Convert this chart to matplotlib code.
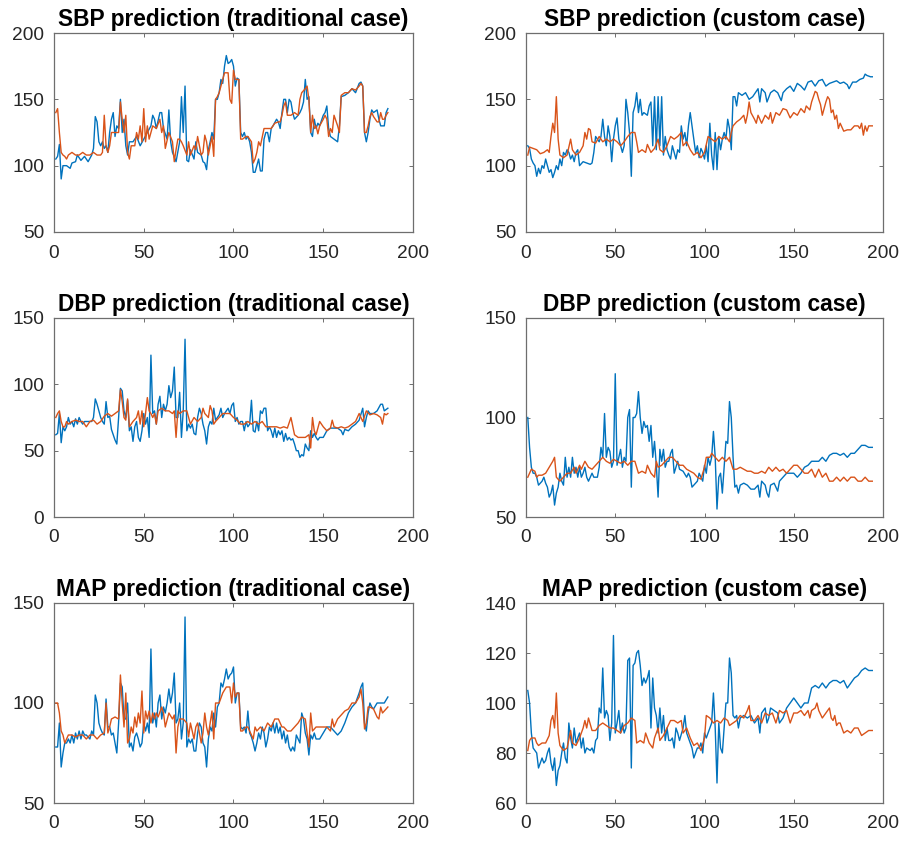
"""
BP prediction comparison: traditional vs custom case, 3x2 grid (MATLAB look).
"""
import numpy as np
import matplotlib
matplotlib.use("Agg")
import matplotlib.pyplot as plt
from matplotlib import rcParams

rcParams["font.family"] = ["Liberation Sans", "DejaVu Sans"]

BLUE   = "#0072BD"
ORANGE = "#D95319"
AXCOL  = "#6e6e6e"

# ============================================================ DATA
# --- SBP traditional
sbp_trad_blue_x = [1,2,3,4,5,7,9,10,12,13,15,17,19,21,22,23,24,25,26,27,28,29,30,31,32,33,34,35,36,37,38,39,40,41,42,44,46,48,50,52,54,55,56,57,59,60,61,63,64,65,66,68,70,71,72,73,74,75,76,78,79,80,82,83,84,85,86,87,88,89,90,91,92,93,94,95,96,97,98,99,100,101,102,103,104,105,106,107,108,109,110,111,112,113,114,115,116,117,118,119,120,121,122,124,125,126,127,128,129,130,131,132,133,134,136,137,138,139,140,141,142,143,144,145,146,147,148,150,151,152,153,154,156,158,159,160,162,164,166,168,170,171,172,173,174,175,176,177,178,180,181,182,184,185,186]
sbp_trad_blue_y = [105,107,116,90,100,100,98,102,103,108,104,107,103,108,113,137,133,118,115,118,113,115,110,125,135,140,122,130,128,150,125,135,115,108,118,118,122,115,120,125,130,138,135,128,140,140,128,120,142,118,110,103,118,152,125,160,104,103,112,105,118,110,108,103,102,97,112,118,125,120,150,150,155,165,162,175,183,177,178,180,175,160,166,165,125,122,125,120,122,118,110,95,95,100,105,96,96,120,125,125,118,128,130,135,133,128,140,150,150,140,150,148,140,135,138,140,143,148,165,150,152,125,122,135,128,132,130,138,140,145,128,122,120,118,130,152,153,155,158,155,162,163,160,125,118,125,135,142,140,142,135,130,130,140,143]
sbp_trad_orng_x = [1,2,3,4,5,6,7,8,10,12,14,16,18,20,22,24,26,27,28,29,30,31,32,34,36,37,38,39,40,41,42,43,45,46,47,48,49,50,51,52,53,55,57,59,60,61,62,64,66,67,68,69,70,71,72,74,75,76,78,79,80,81,82,83,84,85,86,88,89,90,91,92,93,95,96,97,98,99,100,101,102,103,104,105,107,108,110,111,112,113,114,115,117,119,121,123,125,126,127,128,129,130,132,134,136,137,138,140,141,142,143,144,145,146,147,148,150,151,152,153,154,155,156,158,159,160,162,164,166,168,170,171,172,173,174,175,176,177,178,180,181,182,183,184,185,186]
sbp_trad_orng_y = [140,143,125,110,108,107,105,108,110,108,108,110,108,108,110,108,108,110,138,115,110,115,125,125,125,148,135,125,138,110,105,115,115,125,120,130,118,143,118,130,120,130,128,135,125,130,113,125,118,103,112,120,120,118,115,108,118,108,115,112,122,115,108,110,123,118,108,122,107,150,152,155,160,170,170,170,150,147,172,165,165,165,120,120,122,122,118,102,105,110,118,115,128,128,128,132,133,133,138,145,148,138,138,140,138,150,155,158,160,150,125,138,128,130,124,130,135,138,135,122,128,125,138,130,125,153,155,155,158,157,160,162,160,125,125,130,137,140,137,133,133,140,135,135,138,140]

# --- SBP custom
sbp_cust_blue_x = [1,2,3,4,5,6,7,8,9,10,11,12,13,14,15,16,17,18,19,20,21,22,23,24,25,26,27,28,29,30,32,34,36,37,38,39,40,41,42,43,44,45,46,47,48,49,50,51,52,53,54,55,56,57,58,59,60,61,62,63,64,65,66,68,69,70,71,72,73,74,75,76,77,78,79,80,81,82,83,84,85,86,87,88,89,90,91,92,93,94,95,96,97,98,99,100,101,102,103,104,105,106,107,108,109,110,111,112,113,114,115,116,117,118,119,121,123,125,127,129,130,131,132,134,135,137,139,141,143,144,146,148,150,152,154,156,158,160,162,164,166,168,170,172,174,176,178,180,181,183,185,187,189,190,191,193,194]
sbp_cust_blue_y = [115,113,105,102,100,92,98,94,100,98,105,100,95,97,91,95,100,97,105,100,110,108,112,110,105,108,103,110,112,100,103,102,101,102,110,122,120,118,122,135,122,115,130,122,103,120,130,136,120,115,110,115,150,140,125,92,140,145,155,140,150,138,140,138,145,148,115,152,112,152,115,152,108,122,112,108,105,115,110,105,112,110,130,120,125,115,130,140,130,120,110,115,106,113,110,105,115,103,132,108,97,125,97,122,112,120,125,120,135,128,112,152,152,145,155,153,155,150,152,156,158,148,158,155,148,155,157,155,149,155,158,160,156,162,160,157,163,164,160,164,165,160,162,163,164,162,163,161,158,163,163,165,166,169,168,167,167]
sbp_cust_orng_x = [1,2,4,6,8,10,12,13,14,15,16,17,18,19,21,23,25,26,28,30,32,33,34,35,36,37,39,41,43,45,47,49,51,53,55,57,59,61,62,63,65,67,68,70,72,74,75,77,79,81,83,85,87,88,90,92,94,96,98,100,102,104,106,108,110,112,114,115,116,118,120,122,123,124,125,126,128,129,130,132,134,136,137,138,140,142,144,146,148,150,152,154,156,157,159,160,162,163,164,165,166,168,169,170,171,172,173,174,175,176,178,180,182,184,186,187,188,189,190,191,192,194]
sbp_cust_orng_y = [108,114,113,112,109,110,112,110,122,132,125,152,120,108,106,108,120,112,108,110,115,125,120,128,127,118,117,122,118,120,118,120,118,115,118,122,125,125,118,110,112,110,116,110,113,120,112,110,115,122,120,122,125,115,118,112,108,110,106,110,122,120,118,122,120,122,118,125,130,133,135,138,132,138,148,140,135,132,138,132,138,135,140,132,140,138,143,142,136,140,138,143,140,145,142,148,156,155,150,146,138,148,152,150,140,142,135,138,128,132,126,127,127,130,130,128,132,123,130,126,130,130]

# --- DBP traditional
dbp_trad_blue_x = [1,2,3,4,5,6,7,8,9,10,11,12,13,14,15,16,17,18,20,21,22,23,24,25,26,27,28,29,30,31,32,33,34,35,36,37,38,39,40,41,42,43,44,45,46,47,48,49,50,51,52,53,54,55,56,57,58,59,60,61,62,63,64,65,66,67,68,69,70,71,72,73,74,75,76,77,78,79,80,81,82,83,84,85,86,87,88,89,90,91,92,93,94,95,96,97,98,99,100,101,102,103,104,105,106,107,108,109,110,111,112,113,114,115,116,117,118,119,120,121,122,123,124,125,126,127,128,129,130,131,132,133,134,135,136,137,138,139,140,141,142,143,144,145,146,147,148,150,152,154,156,158,160,161,162,164,166,168,170,172,173,174,175,176,178,180,182,183,184,186]
dbp_trad_blue_y = [62,63,78,56,68,65,68,75,70,72,68,74,70,75,72,70,72,72,72,72,75,89,85,80,75,72,70,87,75,76,66,62,58,55,75,97,95,80,75,88,65,68,57,68,72,60,57,65,78,70,75,60,122,78,80,70,85,91,75,85,80,85,99,90,95,113,75,75,94,60,80,134,65,70,67,70,63,62,75,82,78,70,65,55,68,72,70,82,73,75,77,82,75,78,80,82,78,84,86,72,75,70,72,72,65,72,68,70,88,65,64,72,65,80,78,82,82,65,68,65,60,67,60,65,62,65,57,63,58,60,58,59,55,50,50,45,47,46,55,52,50,65,60,63,60,58,60,60,65,67,67,67,65,62,66,65,68,70,73,82,68,75,80,78,78,80,85,85,80,82]
dbp_trad_orng_x = [1,2,3,4,5,6,7,8,10,12,14,16,18,20,22,24,26,28,30,32,34,36,37,38,39,40,41,42,43,44,46,47,48,49,50,51,52,53,54,55,56,57,58,60,62,64,66,67,68,69,70,72,74,76,78,80,82,83,84,86,87,88,89,90,92,94,96,98,100,102,104,106,108,110,112,114,116,118,120,122,124,126,128,130,132,134,136,138,140,142,143,144,145,146,148,150,152,154,155,156,158,160,162,164,166,168,170,171,172,174,176,178,180,182,183,184,185,186]
dbp_trad_orng_y = [75,78,80,72,68,68,72,70,72,73,72,72,68,72,73,70,72,76,78,76,78,80,96,87,75,73,89,68,70,72,75,80,70,80,68,78,90,80,78,75,78,70,80,82,80,80,78,80,60,80,78,80,80,70,75,72,75,82,78,75,84,80,70,72,75,78,78,78,75,73,70,70,72,70,72,70,72,68,68,68,68,67,68,67,75,62,60,60,60,62,52,75,65,62,72,68,65,67,73,68,67,68,67,68,70,72,78,75,72,80,77,78,77,75,70,78,77,78]

# --- DBP custom
dbp_cust_blue_x = [1,2,3,4,5,6,7,8,9,10,11,12,13,14,15,16,17,18,19,20,21,22,23,24,25,26,27,28,29,30,31,32,33,34,35,37,38,40,41,42,43,44,45,46,47,48,49,50,51,52,53,54,55,56,57,58,59,60,61,62,63,64,65,66,67,68,69,70,71,72,73,74,75,76,77,78,79,80,81,82,83,84,85,86,88,90,91,92,93,95,96,97,98,99,100,101,102,103,104,105,106,107,108,109,110,111,112,113,114,115,116,117,118,119,120,122,124,126,128,130,131,132,134,135,136,137,139,140,141,142,144,146,148,150,152,154,156,158,160,162,164,166,168,170,172,174,176,178,180,182,184,186,188,190,192,194]
dbp_cust_blue_y = [100,85,75,72,72,70,66,67,68,70,67,65,60,62,66,56,62,65,72,68,66,80,70,75,70,80,72,75,70,75,70,72,75,70,68,72,70,70,75,85,80,102,80,85,83,75,78,122,76,80,84,75,80,78,100,104,65,100,100,102,113,100,92,98,95,96,88,96,80,88,76,60,84,78,84,75,78,78,82,84,72,75,78,74,73,70,72,70,65,67,68,72,70,68,76,72,80,76,80,93,80,54,70,72,62,75,88,87,108,100,80,65,66,62,66,67,66,64,64,66,60,68,66,62,60,66,67,65,63,68,70,72,72,72,70,72,75,76,78,78,78,80,78,81,82,82,81,82,80,82,82,84,86,86,85,85]
dbp_cust_orng_x = [1,2,3,5,6,7,9,11,13,15,16,17,19,21,23,25,27,28,30,31,33,35,37,39,41,43,45,47,49,51,53,55,57,59,61,63,65,67,68,70,72,73,74,76,78,80,82,84,86,88,90,92,94,96,98,100,101,103,104,106,108,110,112,114,116,118,120,122,124,126,128,130,132,134,136,138,140,142,144,146,148,150,152,154,156,158,160,162,164,166,168,170,172,174,176,178,180,182,184,186,188,190,192,194]
dbp_cust_orng_y = [70,72,74,73,70,71,71,72,75,78,80,70,68,70,72,72,75,72,76,74,78,75,74,76,78,80,78,77,79,78,77,78,76,78,78,72,73,72,76,72,70,78,75,76,78,80,80,78,76,76,74,73,72,70,69,75,80,80,82,80,78,80,78,80,74,74,75,74,73,73,72,72,73,72,75,73,75,73,74,72,74,76,76,74,72,72,74,70,74,70,72,68,68,70,68,70,68,70,70,68,68,70,68,68]

# --- MAP traditional
map_trad_blue_x = [1,2,3,4,5,6,7,8,9,10,11,12,13,14,15,16,17,18,20,21,22,23,24,25,26,27,28,29,30,31,32,33,34,35,36,37,38,39,40,41,42,43,44,45,46,47,48,49,50,51,52,53,54,55,56,57,58,59,60,61,62,63,64,65,66,67,68,69,70,71,72,73,74,75,76,77,78,79,80,81,82,83,84,85,86,87,88,89,90,91,92,93,94,95,96,97,98,99,100,101,102,103,104,105,106,107,108,109,110,111,112,113,114,115,116,117,118,119,120,121,122,123,124,125,126,127,128,129,130,131,132,133,134,135,136,137,138,139,140,141,142,143,144,145,146,148,150,152,154,156,158,160,162,164,166,168,170,171,172,173,174,175,176,177,178,180,182,184,186]
map_trad_blue_y = [78,78,90,68,75,80,80,82,80,84,80,85,82,86,82,86,84,84,82,86,84,104,100,90,87,85,84,102,88,88,84,85,80,75,90,110,108,92,92,100,78,80,76,83,85,82,78,80,90,86,90,85,127,90,95,88,100,104,92,98,95,100,107,100,105,115,90,92,100,82,90,143,78,82,80,82,76,76,85,90,88,80,78,68,82,88,86,95,88,98,100,110,108,112,117,112,114,115,118,100,105,105,88,87,88,85,96,85,83,80,76,80,85,82,88,85,78,82,88,86,90,85,90,85,88,82,86,80,84,78,76,78,76,84,82,80,95,92,85,82,74,84,82,85,82,82,85,88,88,86,84,86,90,95,98,100,105,108,110,90,86,95,100,98,97,100,100,100,103]
map_trad_orng_x = [1,2,3,4,5,6,7,8,10,12,14,16,18,20,22,24,26,28,29,30,31,32,34,36,37,38,39,40,41,42,43,44,45,46,47,48,49,50,51,52,53,54,55,56,57,58,60,61,62,64,66,67,68,69,70,72,74,75,76,78,79,80,81,82,83,84,85,86,88,89,90,91,92,94,96,98,99,100,101,102,103,104,105,107,108,110,111,112,113,115,117,119,121,123,125,127,128,130,132,134,136,138,140,141,142,143,144,146,148,150,152,154,155,156,158,160,162,164,166,168,170,171,172,173,174,175,176,178,180,181,182,183,184,185,186]
map_trad_orng_y = [100,100,95,86,84,80,82,84,84,83,84,84,82,84,84,82,84,85,100,85,88,92,93,92,114,100,88,105,80,82,88,85,93,88,95,90,106,85,96,92,96,90,95,92,95,93,98,95,88,95,92,94,75,88,92,92,90,83,90,82,88,90,85,80,85,95,88,84,96,82,100,100,100,105,108,108,100,110,103,105,105,86,86,88,88,84,82,88,86,88,86,90,88,92,92,88,88,86,86,88,90,93,92,85,78,95,86,88,88,88,88,86,92,88,92,94,96,97,100,100,103,107,100,87,90,98,98,97,93,92,98,95,96,97,98]

# --- MAP custom
map_cust_blue_x = [1,2,3,4,5,6,7,8,9,10,11,12,13,14,15,16,17,18,19,20,21,22,23,24,25,26,27,28,29,30,31,32,33,34,36,37,38,39,40,41,42,43,44,45,46,47,48,49,50,51,52,53,54,55,56,57,58,59,60,61,62,63,64,65,66,67,68,69,70,71,72,73,74,75,76,77,78,79,80,81,82,83,84,85,86,88,89,90,91,92,93,94,95,96,97,98,99,100,101,102,103,104,105,106,107,108,109,110,111,112,113,114,115,116,117,118,119,120,122,124,126,128,130,131,132,134,135,136,137,139,141,142,144,146,148,150,152,154,156,158,160,162,164,166,168,170,172,174,176,178,180,182,184,186,188,190,192,194]
map_cust_blue_y = [105,100,88,82,81,80,74,76,78,76,77,80,82,76,73,78,67,73,75,80,84,78,76,92,86,82,90,84,86,88,82,86,80,82,81,82,80,85,86,98,96,114,94,97,95,85,92,127,88,92,97,88,92,88,90,117,118,74,115,116,120,121,115,107,110,108,110,113,90,110,98,95,88,98,88,95,85,90,85,85,86,82,90,88,85,90,95,88,86,84,82,78,80,82,82,84,80,88,86,88,90,92,104,90,68,92,82,80,90,100,100,118,112,95,94,95,90,94,95,94,95,92,94,88,96,98,92,94,98,97,96,92,94,98,100,102,100,98,100,100,106,107,106,108,106,108,109,109,108,109,106,108,110,111,113,114,113,113]
map_cust_orng_x = [1,2,3,5,6,7,9,11,13,14,15,16,17,18,19,21,23,25,26,28,30,32,33,34,35,37,39,41,43,45,47,49,51,53,55,57,59,61,62,64,66,67,69,71,72,74,75,77,79,81,83,85,87,88,90,92,94,96,98,100,101,103,105,107,109,111,113,114,116,118,120,122,124,125,126,128,130,132,134,136,138,140,142,144,146,148,150,152,154,156,158,159,160,162,163,164,166,168,170,171,172,173,174,175,176,178,180,182,184,186,188,190,192,194]
map_cust_orng_y = [81,85,86,86,84,83,84,84,87,93,95,90,104,88,83,81,82,89,84,83,86,90,93,90,94,89,89,91,92,91,90,90,89,88,91,92,94,93,84,85,84,88,84,82,86,90,85,87,90,93,93,92,93,88,90,86,83,84,81,86,95,94,92,93,92,94,93,91,92,93,95,94,97,99,93,93,95,92,96,95,96,92,97,96,97,92,96,96,97,95,97,94,97,98,100,97,94,96,98,94,93,95,91,92,92,88,89,88,90,90,87,88,89,89]

# ============================================================ PANELS
panels = [
    ("SBP prediction (traditional case)", sbp_trad_blue_x, sbp_trad_blue_y, sbp_trad_orng_x, sbp_trad_orng_y, (50, 200), [50, 100, 150, 200]),
    ("SBP prediction (custom case)",      sbp_cust_blue_x, sbp_cust_blue_y, sbp_cust_orng_x, sbp_cust_orng_y, (50, 200), [50, 100, 150, 200]),
    ("DBP prediction (traditional case)", dbp_trad_blue_x, dbp_trad_blue_y, dbp_trad_orng_x, dbp_trad_orng_y, (0, 150),  [0, 50, 100, 150]),
    ("DBP prediction (custom case)",      dbp_cust_blue_x, dbp_cust_blue_y, dbp_cust_orng_x, dbp_cust_orng_y, (50, 150), [50, 100, 150]),
    ("MAP prediction (traditional case)", map_trad_blue_x, map_trad_blue_y, map_trad_orng_x, map_trad_orng_y, (50, 150), [50, 100, 150]),
    ("MAP prediction (custom case)",      map_cust_blue_x, map_cust_blue_y, map_cust_orng_x, map_cust_orng_y, (60, 140), [60, 80, 100, 120, 140]),
]

W, H = 901, 842
col_x = [(54, 413), (526, 883)]
row_y = [(33, 232), (318, 517), (603, 803)]

fig = plt.figure(figsize=(W / 100, H / 100), dpi=100)

for i, (title, bx, by, ox, oy, ylim, yticks) in enumerate(panels):
    r, c = divmod(i, 2)
    x0, x1 = col_x[c]
    y0, y1 = row_y[r]
    ax = fig.add_axes([x0 / W, 1 - y1 / H, (x1 - x0) / W, (y1 - y0) / H])
    ax.plot(bx, by, color=BLUE, lw=1.0)
    ax.plot(ox, oy, color=ORANGE, lw=1.0)
    ax.set_xlim(0, 200)
    ax.set_ylim(*ylim)
    ax.set_xticks([0, 50, 100, 150, 200])
    ax.set_yticks(yticks)
    ax.tick_params(direction="in", length=3, width=0.7, colors=AXCOL,
                   labelcolor="#262626", labelsize=13.8,
                   top=True, right=True)
    ax.tick_params(axis="x", pad=9)
    ax.tick_params(axis="y", pad=7)
    for s in ax.spines.values():
        s.set_color(AXCOL)
        s.set_linewidth(0.9)
    ax.set_title(title, fontsize=16.4, fontweight="bold", color="black", pad=5)

fig.savefig("out.png", dpi=100)
